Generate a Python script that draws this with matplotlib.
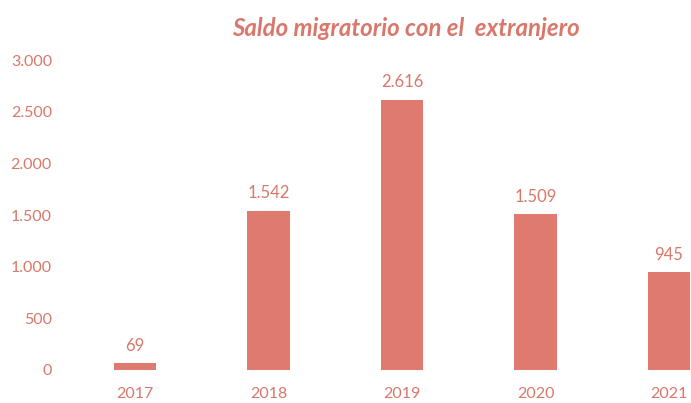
import matplotlib
matplotlib.use('Agg')
import matplotlib.pyplot as plt

years = ['2017', '2018', '2019', '2020', '2021']
saldo = [69, 1542, 2616, 1509, 945]
yticks = [0, 500, 1000, 1500, 2000, 2500, 3000]

bar_col = '#DE7B6E'
txt_col = '#D9776A'


def fmt(v):
    # separador de miles con punto
    return '{:,}'.format(v).replace(',', '.')


plt.rcParams['font.family'] = ['Lato', 'DejaVu Sans']

fig = plt.figure(figsize=(6.91, 4.03), dpi=100)
ax = fig.add_axes([0.1013, 0.0819, 0.8987, 0.769])

x = list(range(len(years)))
bars = ax.bar(x, saldo, width=0.32, color=bar_col, clip_on=True)
for xi, v in zip(x, saldo):
    ax.text(xi, v + 90, fmt(v), ha='center', va='bottom', fontsize=12, color=txt_col)

ax.set_xlim(-0.487, 4.165)
ax.set_ylim(0, 3000)
ax.set_yticks(yticks)
ax.set_yticklabels([fmt(t) for t in yticks])
ax.set_xticks(x)
ax.set_xticklabels(years)
ax.tick_params(axis='y', length=0, pad=13, labelsize=11.5, labelcolor=txt_col)
ax.tick_params(axis='x', length=0, pad=12, labelsize=11.5, labelcolor=txt_col)
for s in ax.spines.values():
    s.set_visible(False)

fig.text(0.587, 0.93, 'Saldo migratorio con el  extranjero', ha='center', va='center',
         fontsize=17.3, fontweight='bold', fontstyle='italic', color=txt_col)

fig.savefig('out.png', dpi=100)
